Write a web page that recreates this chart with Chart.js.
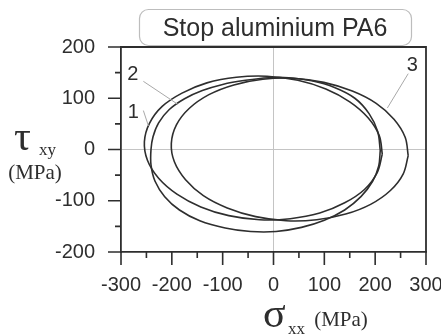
<!DOCTYPE html>
<html lang="en">
<head>
<meta charset="UTF-8">
<title>Stop aluminium PA6</title>
<script src="https://cdn.jsdelivr.net/npm/chart.js"></script>
<style>
  html, body { margin: 0; padding: 0; background: #fff; }
  #wrap { width: 441px; height: 334px; }
</style>
</head>
<body>
<div id="wrap"><canvas id="stressChart" width="441" height="334"></canvas></div>
<script>
const chartTitle = 'Stop aluminium PA6';
const xTicks = [-300, -200, -100, 0, 100, 200, 300];
const yTicks = [-200, -100, 0, 100, 200];
const curveNames = ['1', '2', '3'];

// closed stress paths, sigma_xx vs tau_xy (MPa), traced counter-clockwise from the right
const loop1 = [
  [214, -9], [208, 27], [186, 62], [150, 93], [103, 118], [48, 135],
  [-13, 143], [-73, 141], [-131, 130], [-180, 110], [-219, 84], [-244, 51],
  [-254, 15], [-248, -21], [-226, -56], [-190, -87], [-143, -112], [-88, -129],
  [-27, -137], [33, -135], [91, -124], [140, -104], [179, -78], [204, -45],
  [214, -9]
];
const loop2 = [
  [210, -2], [205, 35], [188, 70], [160, 100], [120, 121], [75, 134],
  [30, 140], [-10, 140], [-55, 135], [-100, 127], [-140, 115], [-175, 99],
  [-205, 78], [-226, 52], [-237, 25], [-241, 0], [-241, -30], [-233, -62],
  [-214, -92], [-185, -118], [-145, -139], [-95, -153], [-45, -160], [5, -160],
  [55, -152], [100, -138], [140, -118], [172, -92], [195, -62], [207, -32],
  [210, -2]
];
const loop3 = [
  [265, -12], [259, 24], [237, 59], [202, 90], [155, 114], [99, 131],
  [39, 139], [-21, 137], [-78, 126], [-127, 107], [-166, 80], [-191, 48],
  [-201, 12], [-195, -24], [-173, -59], [-138, -90], [-91, -114], [-35, -131],
  [25, -139], [85, -137], [142, -126], [191, -107], [230, -80], [255, -48],
  [265, -12]
];

const ink = '#2e2e2e';
const sans = '"Liberation Sans", Arial, sans-serif';
const serif = '"Liberation Serif", "Times New Roman", serif';

function asPoints(loop) {
  return loop.map(([x, y]) => ({ x, y }));
}

const decorations = {
  id: 'decorations',
  afterDraw(chart) {
    const { ctx, chartArea: a, scales } = chart;
    const xs = scales.x, ys = scales.y;
    const px = v => xs.getPixelForValue(v);
    const py = v => ys.getPixelForValue(v);
    ctx.save();

    // top and right frame
    ctx.strokeStyle = ink;
    ctx.lineWidth = 1.8;
    ctx.beginPath();
    ctx.moveTo(a.left, a.top);
    ctx.lineTo(a.right, a.top);
    ctx.lineTo(a.right, a.bottom);
    ctx.stroke();

    // outward tick marks, long at labelled values
    ctx.lineWidth = 1.6;
    ctx.beginPath();
    for (let v = -300; v <= 300; v += 50) {
      const len = v % 100 === 0 ? 13 : 6;
      ctx.moveTo(px(v), a.bottom);
      ctx.lineTo(px(v), a.bottom + len);
    }
    for (let v = -200; v <= 200; v += 50) {
      const len = v % 100 === 0 ? 13 : 6;
      ctx.moveTo(a.left, py(v));
      ctx.lineTo(a.left - len, py(v));
    }
    ctx.stroke();

    // curve numbers with leader lines
    const tags = [
      { text: curveNames[0], at: [-276, 73], from: [-256, 76], to: [-246, 46] },
      { text: curveNames[1], at: [-277, 146], from: [-256, 133], to: [-188, 88] },
      { text: curveNames[2], at: [273, 164], from: [265, 148], to: [224, 81] }
    ];
    ctx.strokeStyle = '#a8a8a8';
    ctx.lineWidth = 1;
    tags.forEach(t => {
      ctx.beginPath();
      ctx.moveTo(px(t.from[0]), py(t.from[1]));
      ctx.lineTo(px(t.to[0]), py(t.to[1]));
      ctx.stroke();
    });
    ctx.fillStyle = ink;
    ctx.font = '20px ' + sans;
    ctx.textAlign = 'center';
    ctx.textBaseline = 'middle';
    tags.forEach(t => ctx.fillText(t.text, px(t.at[0]), py(t.at[1])));

    // title box
    ctx.strokeStyle = '#bdbdbd';
    ctx.lineWidth = 1.2;
    ctx.beginPath();
    ctx.roundRect(139.5, 9.5, 272, 36, 9);
    ctx.stroke();
    ctx.font = '25px ' + sans;
    ctx.fillText(chartTitle, 275, 29);

    // axis titles
    ctx.textAlign = 'left';
    ctx.textBaseline = 'alphabetic';
    ctx.font = '42px ' + serif;
    ctx.fillText('\u03c4', 14, 150);
    ctx.fillText('\u03c3', 263, 327);
    ctx.font = '17px ' + serif;
    ctx.fillText('xy', 39, 155);
    ctx.fillText('xx', 288, 334);
    ctx.font = '21px ' + serif;
    ctx.textAlign = 'center';
    ctx.textBaseline = 'middle';
    ctx.fillText('(MPa)', 35, 173);
    ctx.fillText('(MPa)', 341, 320);

    ctx.restore();
  }
};

const lineStyle = {
  showLine: true,
  pointRadius: 0,
  borderColor: ink,
  borderWidth: 1.6,
  tension: 0.35,
  fill: false
};

const zeroGrid = c => (c.tick && c.tick.value === 0 ? '#c4c4c4' : 'rgba(0,0,0,0)');

new Chart(document.getElementById('stressChart'), {
  type: 'scatter',
  data: {
    datasets: [
      { label: curveNames[0], data: asPoints(loop1), ...lineStyle },
      { label: curveNames[1], data: asPoints(loop2), ...lineStyle },
      { label: curveNames[2], data: asPoints(loop3), ...lineStyle }
    ]
  },
  options: {
    responsive: false,
    animation: false,
    devicePixelRatio: 1,
    layout: { padding: { top: 47, right: 15, left: 0, bottom: 0 } },
    plugins: {
      legend: { display: false },
      tooltip: { enabled: false }
    },
    scales: {
      x: {
        type: 'linear',
        min: -300,
        max: 300,
        afterBuildTicks: s => { s.ticks = xTicks.map(v => ({ value: v })); },
        afterFit: s => { s.height = 82; s.paddingLeft = 0; s.paddingRight = 0; },
        grid: { color: zeroGrid, lineWidth: 1, drawTicks: false },
        border: { display: true, color: ink, width: 1.8 },
        ticks: { color: ink, font: { family: sans, size: 20 }, padding: 21, maxRotation: 0 }
      },
      y: {
        type: 'linear',
        min: -200,
        max: 200,
        afterBuildTicks: s => { s.ticks = yTicks.map(v => ({ value: v })); },
        afterFit: s => { s.width = 121; s.paddingTop = 0; s.paddingBottom = 0; },
        grid: { color: zeroGrid, lineWidth: 1, drawTicks: false },
        border: { display: true, color: ink, width: 1.8 },
        ticks: { color: ink, font: { family: sans, size: 20 }, padding: 26 }
      }
    }
  },
  plugins: [decorations]
});
</script>
</body>
</html>
